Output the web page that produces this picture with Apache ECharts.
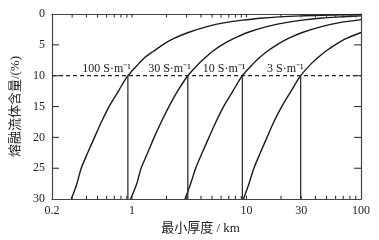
<!DOCTYPE html>
<html>
<head>
<meta charset="utf-8">
<script src="https://cdn.jsdelivr.net/npm/echarts@6/dist/echarts.min.js"></script>
<style>
  html, body { margin: 0; padding: 0; background: #fff; }
  #chart { width: 379px; height: 240px; }
</style>
</head>
<body>
<div id="chart"></div>
<script>
// 最小厚度 (km) vs 熔融流体含量 (%)
var h100 = [0.295, 0.33, 0.36, 0.41, 0.47, 0.54, 0.63, 0.76, 0.92, 1.15, 1.3, 1.55, 1.85, 2.3, 3.1, 4.6, 6.5, 9.2, 14, 18, 30, 46, 70, 100];
var p100 = [30, 27.5, 25, 22.5, 20, 17.5, 15, 12.5, 10, 8, 7, 6, 5, 4, 3, 2, 1.4, 1, 0.65, 0.5, 0.3, 0.2, 0.13, 0.09];
var h30 = [0.97, 1.1, 1.2, 1.37, 1.56, 1.8, 2.1, 2.5, 3.07, 3.85, 4.4, 5.1, 6.1, 7.7, 10.2, 15.3, 22, 30.7, 46, 61, 100];
var p30 = [30, 27.5, 25, 22.5, 20, 17.5, 15, 12.5, 10, 8, 7, 6, 5, 4, 3, 2, 1.4, 1, 0.65, 0.5, 0.31];
var h10 = [2.9, 3.25, 3.6, 4.1, 4.7, 5.4, 6.3, 7.6, 9.2, 11.5, 13.1, 15.3, 18.4, 23, 30.7, 46, 65, 100];
var p10 = [30, 27.5, 25, 22.5, 20, 17.5, 15, 12.5, 10, 8, 7, 6, 5, 4, 3, 2, 1.4, 0.92];
var h3 = [9.4, 10.5, 11.6, 13.2, 15.1, 17.3, 20.3, 24.5, 29.7, 37, 42.4, 49.5, 59.4, 74, 100];
var p3 = [30, 27.5, 25, 22.5, 20, 17.5, 15, 12.5, 10, 8, 7, 6, 5, 4, 3.0];

// thickness where each curve crosses 10 %
var cutX = [0.92, 3.07, 9.2, 29.7];
var cutLabels = ['100 S·m⁻¹', '30 S·m⁻¹', '10 S·m⁻¹', '3 S·m⁻¹'];
var cutLevel = 10;

var xLabelValues = [0.2, 1, 10, 30, 100];
var xTickValues = [0.3, 0.4, 0.5, 0.6, 0.7, 0.8, 0.9, 1, 2, 3, 4, 5, 6, 7, 8, 9, 10, 20, 30, 40, 50, 60, 70, 80, 90];
var yTickValues = [5, 10, 15, 20, 25];

var serif = '"Liberation Serif", "Noto Sans CJK SC", serif';
var axisColor = '#444';

function pairs(xs, ys) {
  return xs.map(function (x, i) { return [x, ys[i]]; });
}

var series = [];
[[h100, p100], [h30, p30], [h10, p10], [h3, p3]].forEach(function (c) {
  series.push({
    type: 'line',
    data: pairs(c[0], c[1]),
    smooth: 0.3,
    symbol: 'none',
    lineStyle: { color: '#1a1a1a', width: 1.4 },
    silent: true
  });
});

// dashed 10 % line
series.push({
  type: 'line',
  data: [[0.2, cutLevel], [100, cutLevel]],
  symbol: 'none',
  lineStyle: { color: '#222', width: 1.2, type: [4, 3] },
  silent: true
});

// vertical drop lines with labels
cutX.forEach(function (x, i) {
  series.push({
    type: 'line',
    data: [
      {
        value: [x, cutLevel],
        label: {
          show: true,
          position: 'left',
          distance: 0,
          offset: [3, -7],
          formatter: cutLabels[i],
          fontFamily: serif,
          fontSize: 12,
          color: '#222'
        }
      },
      [x, 30]
    ],
    symbol: 'circle',
    symbolSize: 0,
    showSymbol: true,
    lineStyle: { color: '#333', width: 1.3 },
    silent: true
  });
});

// inward tick marks on the frame, drawn as short line segments on the axis scales
// (clip off, they sit right on the grid edge)
function tickLine(p, q) {
  return {
    type: 'line',
    data: [p, q],
    symbol: 'none',
    clip: false,
    lineStyle: { color: '#333', width: 1.1 },
    silent: true,
    z: 5
  };
}
xTickValues.forEach(function (x) {
  series.push(tickLine([x, 30], [x, 29.45]));
  series.push(tickLine([x, 0], [x, 0.55]));
});
yTickValues.forEach(function (y) {
  series.push(tickLine([0.2, y], [0.23, y]));
  series.push(tickLine([100, y], [87, y]));
});

var chart = echarts.init(document.getElementById('chart'));
chart.setOption({
  animation: false,
  textStyle: { fontFamily: serif },
  grid: { left: 52, right: 18, top: 14, bottom: 40 },
  xAxis: [
    {
      type: 'log',
      logBase: 10,
      min: 0.2,
      max: 100,
      position: 'bottom',
      name: '最小厚度 / km',
      nameLocation: 'middle',
      nameGap: 17,
      nameTextStyle: { fontFamily: serif, fontSize: 13, color: '#222', padding: [0, 12, 0, 0] },
      axisLine: { show: true, onZero: false, lineStyle: { color: axisColor, width: 1.2 } },
      axisTick: { show: false },
      axisLabel: { show: true, customValues: xLabelValues, margin: 6, fontSize: 12, color: '#222', fontFamily: serif, formatter: function (v) { return String(+v.toPrecision(3)); } },
      splitLine: { show: false }
    },
    {
      type: 'log',
      logBase: 10,
      min: 0.2,
      max: 100,
      position: 'top',
      axisLine: { show: true, onZero: false, lineStyle: { color: axisColor, width: 1.2 } },
      axisTick: { show: false },
      axisLabel: { show: false },
      splitLine: { show: false }
    }
  ],
  yAxis: [
    {
      type: 'value',
      inverse: true,
      min: 0,
      max: 30,
      interval: 5,
      position: 'left',
      name: '熔融流体含量/(%)',
      nameLocation: 'middle',
      nameRotate: 90,
      nameGap: 30,
      nameTextStyle: { fontFamily: serif, fontSize: 13, color: '#222' },
      axisLine: { show: true, onZero: false, lineStyle: { color: axisColor, width: 1.2 } },
      axisTick: { show: false },
      axisLabel: { margin: 7, fontSize: 12, color: '#222', fontFamily: serif },
      splitLine: { show: false }
    },
    {
      type: 'value',
      inverse: true,
      min: 0,
      max: 30,
      interval: 5,
      position: 'right',
      axisLine: { show: true, onZero: false, lineStyle: { color: axisColor, width: 1.2 } },
      axisTick: { show: false },
      axisLabel: { show: false },
      splitLine: { show: false }
    }
  ],
  series: series
});
</script>
</body>
</html>
